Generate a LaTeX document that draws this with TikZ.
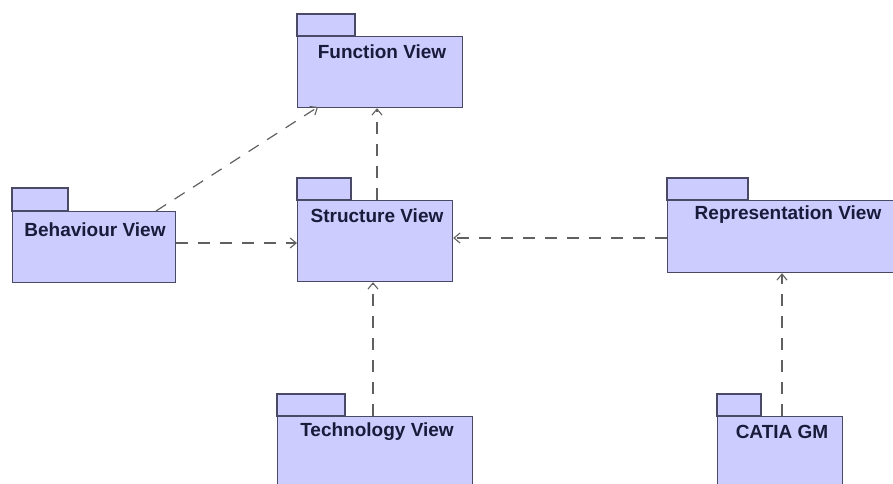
\documentclass[tikz,border=0pt]{standalone}
\usepackage{fontspec}
\setmainfont{Liberation Sans}
\usetikzlibrary{arrows.meta,calc}
\definecolor{pkgfill}{HTML}{CCCCFF}
\definecolor{pkgline}{HTML}{4A4A66}
\definecolor{pkgtext}{HTML}{1A1A3A}
\definecolor{depline}{HTML}{606060}
\tikzset{
  pkgbody/.style={draw=pkgline, fill=pkgfill, line width=1.2pt, inner sep=0pt, anchor=north west},
  pkgtab/.style={draw=pkgline, fill=pkgfill, line width=1.2pt},
  lbl/.style={font=\fontsize{19}{19}\selectfont\bfseries, text=pkgtext, inner sep=0pt, anchor=center},
  dep/.style={draw=depline, line width=1.2pt, dash pattern=on 12pt off 10pt,
    -{Straight Barb[length=6pt,width=10pt,line width=1.1pt]}}
}
\begin{document}
\begin{tikzpicture}[x=1pt,y=-1pt]
\useasboundingbox (0,0) rectangle (893,483);
% Function View
\draw[pkgtab] (297,14) rectangle (355,36);
\node[pkgbody, minimum width=165pt, minimum height=71pt] (fv) at (297,36) {};
\node[lbl] (fvl) at (382,52) {Function View};
% Behaviour View
\draw[pkgtab] (12,188) rectangle (68,211);
\node[pkgbody, minimum width=163pt, minimum height=71pt] (bv) at (12,211) {};
\node[lbl] (bvl) at (95,230) {Behaviour View};
% Structure View
\draw[pkgtab] (297,178) rectangle (351,200);
\node[pkgbody, minimum width=155pt, minimum height=81pt] (sv) at (297,200) {};
\node[lbl] (svl) at (377,216) {Structure View};
% Representation View
\draw[pkgtab] (667,178) rectangle (748,200);
\node[pkgbody, minimum width=240pt, minimum height=72pt] (rv) at (667,200) {};
\node[lbl] (rvl) at (788,215) {Representation View};
% Technology View
\draw[pkgtab] (277,394) rectangle (345,416);
\node[pkgbody, minimum width=195pt, minimum height=80pt] (tv) at (277,416) {};
\node[lbl] (tvl) at (377,432) {Technology View};
% CATIA GM
\draw[pkgtab] (717,394) rectangle (761,416);
\node[pkgbody, minimum width=125pt, minimum height=80pt] (cg) at (717,416) {};
\node[lbl] (cgl) at (782,432) {CATIA GM};
% dependencies
\coordinate (bvtop) at (156,211);
\coordinate (fvbot) at (318,107);
\draw[dep] (bvtop) -- (fvbot);
\draw[dep] (sv.north -| 377,0) -- (fv.south -| 377,0);
\draw[dep] (bv.east |- 0,243) -- (sv.west |- 0,243);
\draw[dep] (rv.west |- 0,238) -- (sv.east |- 0,238);
\draw[dep] (tv.north -| 373,0) -- (sv.south -| 373,0);
\draw[dep] (cg.north -| 782,0) -- (rv.south -| 782,0);
\end{tikzpicture}
\end{document}
